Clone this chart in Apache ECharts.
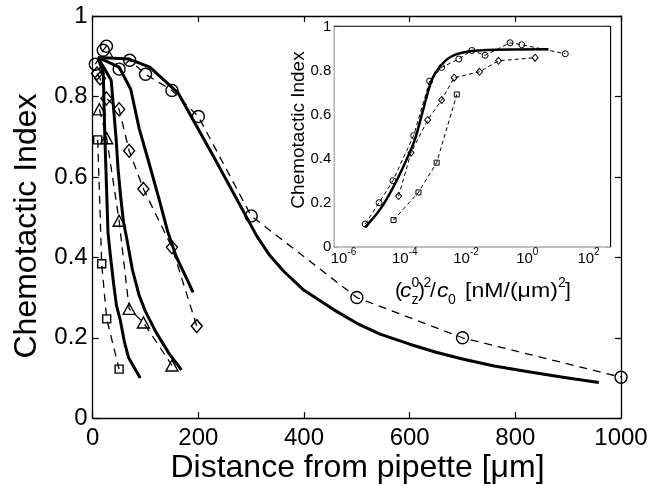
<!DOCTYPE html>
<html><head><meta charset="utf-8">
<script src="https://cdn.jsdelivr.net/npm/echarts@6/dist/echarts.min.js"></script>
<style>html,body{margin:0;padding:0;background:#fff}#c{width:664px;height:485px}</style>
</head><body><div id="c"></div>
<script>
const FONT = '"Liberation Sans", Arial, Helvetica, sans-serif';

// ---------- main panel: distance from pipette [µm] vs chemotactic index ----------
const mainXTicks = [0, 200, 400, 600, 800, 1000];
const mainYTicks = [0, 0.2, 0.4, 0.6, 0.8, 1];

// measured data (dashed, markers)
const circDist = [5, 20, 26, 50, 70, 100, 150, 200, 300, 500, 700, 1000];
const circCI   = [0.88, 0.915, 0.925, 0.868, 0.89, 0.855, 0.815, 0.75, 0.503, 0.3, 0.2, 0.102];
const diamDist = [8, 14, 26, 50, 69, 96, 150, 197];
const diamCI   = [0.857, 0.845, 0.795, 0.768, 0.665, 0.57, 0.425, 0.229];
const triDist  = [12.6, 26.5, 50, 69, 96, 150];
const triCI    = [0.768, 0.696, 0.491, 0.272, 0.238, 0.131];
const sqDist   = [9.5, 17, 26.5, 50];
const sqCI     = [0.692, 0.384, 0.247, 0.122];

// model curves (solid)
const modelADist = [10, 40, 69, 108, 162, 229, 311, 335, 361, 400, 456, 500, 544, 600, 650, 700, 760, 822, 890, 958];
const modelACI   = [0.897, 0.895, 0.893, 0.873, 0.808, 0.65, 0.452, 0.405, 0.366, 0.318, 0.27, 0.236, 0.209, 0.184, 0.164, 0.147, 0.13, 0.116, 0.102, 0.089];
const modelBDist = [10, 50, 72, 88, 105, 112, 126, 142, 158, 175, 190];
const modelBCI   = [0.897, 0.873, 0.818, 0.72, 0.642, 0.609, 0.543, 0.464, 0.402, 0.355, 0.313];
const modelCDist = [10, 35, 44, 48, 53, 58, 65, 75, 88, 100, 121, 145, 168];
const modelCCI   = [0.897, 0.84, 0.7, 0.62, 0.55, 0.49, 0.443, 0.37, 0.305, 0.265, 0.211, 0.16, 0.12];
const modelDDist = [10, 20, 23, 26, 29, 33, 40, 45, 52, 60, 68, 90];
const modelDCI   = [0.897, 0.858, 0.7, 0.58, 0.46, 0.41, 0.33, 0.28, 0.245, 0.19, 0.15, 0.1];

// ---------- inset: (c_z^0)^2/c_0 [nM/(µm)^2] (log scale) vs chemotactic index ----------
const insetXTickExp = [-6, -4, -2, 0, 2];
const insetYTicks = [0, 0.2, 0.4, 0.6, 0.8, 1];
const inCircX = [5.1e-6, 1.45e-5, 4.1e-5, 1.95e-4, 6.5e-4, 1.6e-3, 5.8e-3, 1.55e-2, 4.2e-2, 0.275, 0.66, 17.4];
const inCircY = [0.103, 0.2, 0.3, 0.505, 0.753, 0.815, 0.853, 0.892, 0.87, 0.927, 0.918, 0.877];
const inDiamX = [6.3e-5, 1.6e-4, 5.6e-4, 1.6e-3, 4.1e-3, 2.75e-2, 0.115, 1.8];
const inDiamY = [0.23, 0.427, 0.576, 0.667, 0.768, 0.795, 0.845, 0.859];
const inSqX   = [4.3e-5, 2.8e-4, 1.1e-3, 5.0e-3];
const inSqY   = [0.121, 0.247, 0.382, 0.692];
const inModelX = [5.1e-6, 1.6e-5, 4.3e-5, 1.2e-4, 2.2e-4, 4.1e-4, 7.6e-4, 1.35e-3, 3.0e-3, 1.07e-2, 0.102, 4.9];
const inModelY = [0.088, 0.171, 0.273, 0.402, 0.492, 0.629, 0.758, 0.815, 0.861, 0.886, 0.895, 0.897];

const pairs = (xs, ys) => xs.map((x, i) => [x, ys[i]]);
const logPairs = (xs, ys) => xs.map((x, i) => [Math.log10(x), ys[i]]);

const chart = echarts.init(document.getElementById('c'), null, {renderer: 'canvas'});

const axLine = {show: true, onZero: false, lineStyle: {color: '#000', width: 1.3}};
const tickIn = (len) => ({show: true, inside: true, length: len, lineStyle: {color: '#000', width: 1.2}});

const markerStyle = (w) => ({color: 'transparent', borderColor: '#000', borderWidth: w});

function dashed(name, data, symbol, size, xi, yi, lw, dash, bw) {
  return {
    name, type: 'line', data, xAxisIndex: xi, yAxisIndex: yi,
    symbol, symbolSize: size, showSymbol: true, showAllSymbol: true,
    lineStyle: {color: '#000', width: lw, type: dash},
    itemStyle: markerStyle(bw), silent: true, animation: false, z: 3
  };
}
function solid(name, data, xi, yi, lw) {
  return {
    name, type: 'line', data, xAxisIndex: xi, yAxisIndex: yi,
    symbol: 'none', lineStyle: {color: '#000', width: lw, cap: 'butt', join: 'round'},
    silent: true, animation: false, z: 4
  };
}

function txt(x, y, text, size, opts) {
  const el = {type: 'text', x, y,
    style: {text, font: (opts && opts.italic ? 'italic ' : '') + size + 'px ' + FONT, fill: '#000', align: 'left', verticalAlign: 'middle'}};
  if (opts && opts.scaleX) el.scaleX = opts.scaleX;
  return el;
}

const option = {
  backgroundColor: '#fff',
  animation: false,
  textStyle: {fontFamily: FONT, color: '#000'},
  grid: [
    {left: 92.7, top: 16, width: 528.3, height: 402.2, show: false},
    {left: 334.3, top: 26.7, width: 275.7, height: 220, show: true, backgroundColor: '#fff', borderWidth: 0, z: 5}
  ],
  xAxis: [
    {gridIndex: 0, type: 'value', position: 'bottom', min: mainXTicks[0], max: mainXTicks[mainXTicks.length - 1], interval: 200,
     axisLine: axLine, axisTick: tickIn(6), splitLine: {show: false},
     axisLabel: {show: true, margin: 8, fontSize: 24, fontFamily: FONT, color: '#000', formatter: v => String(v)}},
    {gridIndex: 0, type: 'value', position: 'top', min: 0, max: 1000, interval: 200,
     axisLine: axLine, axisTick: tickIn(6), splitLine: {show: false}, axisLabel: {show: false}},
    {gridIndex: 1, type: 'value', position: 'bottom', min: -6.3, max: 2.7,
     axisLine: axLine, splitLine: {show: false},
     axisTick: Object.assign(tickIn(4), {customValues: insetXTickExp}),
     axisLabel: {show: true, margin: 1, customValues: insetXTickExp, fontFamily: FONT, color: '#000',
       formatter: v => '{a|10}{b|' + Math.round(v) + '}',
       rich: {a: {fontSize: 15, lineHeight: 19, verticalAlign: 'bottom', fontFamily: FONT, color: '#000'},
              b: {fontSize: 10, lineHeight: 10, verticalAlign: 'top', fontFamily: FONT, color: '#000'}}}},
    {gridIndex: 1, type: 'value', position: 'top', min: -6.3, max: 2.7,
     axisLine: axLine, splitLine: {show: false},
     axisTick: Object.assign(tickIn(4), {customValues: insetXTickExp}), axisLabel: {show: false}}
  ],
  yAxis: [
    {gridIndex: 0, type: 'value', position: 'left', min: 0, max: 1, interval: 0.2,
     axisLine: axLine, axisTick: tickIn(6), splitLine: {show: false},
     axisLabel: {show: true, margin: 5, fontSize: 24, fontFamily: FONT, color: '#000'}},
    {gridIndex: 0, type: 'value', position: 'right', min: 0, max: 1, interval: 0.2,
     axisLine: axLine, axisTick: tickIn(6), splitLine: {show: false}, axisLabel: {show: false}},
    {gridIndex: 1, type: 'value', position: 'left', min: 0, max: 1, interval: 0.2,
     axisLine: axLine, axisTick: tickIn(4), splitLine: {show: false},
     axisLabel: {show: true, margin: 3, fontSize: 15, fontFamily: FONT, color: '#000'}},
    {gridIndex: 1, type: 'value', position: 'right', min: 0, max: 1, interval: 0.2,
     axisLine: axLine, axisTick: tickIn(4), splitLine: {show: false}, axisLabel: {show: false}}
  ],
  series: [
    dashed('circles', pairs(circDist, circCI), 'circle', 12, 0, 0, 1.3, [8, 6], 1.4),
    dashed('diamonds', pairs(diamDist, diamCI), 'diamond', [11, 13], 0, 0, 1.3, [8, 6], 1.4),
    dashed('triangles', pairs(triDist, triCI), 'triangle', [12, 11], 0, 0, 1.3, [8, 6], 1.4),
    dashed('squares', pairs(sqDist, sqCI), 'rect', 8, 0, 0, 1.3, [8, 6], 1.4),
    solid('model A', pairs(modelADist, modelACI), 0, 0, 3),
    solid('model B', pairs(modelBDist, modelBCI), 0, 0, 3),
    solid('model C', pairs(modelCDist, modelCCI), 0, 0, 3),
    solid('model D', pairs(modelDDist, modelDCI), 0, 0, 3),
    Object.assign(dashed('in circles', logPairs(inCircX, inCircY), 'circle', 6, 2, 2, 1, [4, 3], 1), {z: 6}),
    Object.assign(dashed('in diamonds', logPairs(inDiamX, inDiamY), 'diamond', [6, 7], 2, 2, 1, [4, 3], 1), {z: 6}),
    Object.assign(dashed('in squares', logPairs(inSqX, inSqY), 'rect', 5, 2, 2, 1, [4, 3], 1), {z: 6}),
    Object.assign(solid('in model', logPairs(inModelX, inModelY), 2, 2, 2.5), {z: 7, smooth: 0.3})
  ],
  graphic: [
    {type: 'text', x: 27, y: 226, rotation: Math.PI / 2, z: 10,
     style: {text: 'Chemotactic Index', font: '32px ' + FONT, fill: '#000', align: 'center', verticalAlign: 'middle'}},
    {type: 'text', x: 357.5, y: 468, z: 10,
     style: {text: 'Distance from pipette [μm]', font: '32px ' + FONT, fill: '#000', align: 'center', verticalAlign: 'middle'}},
    {type: 'text', x: 299, y: 130, rotation: Math.PI / 2, z: 10,
     style: {text: 'Chemotactic Index', font: '19px ' + FONT, fill: '#000', align: 'center', verticalAlign: 'middle'}},
    {type: 'group', z: 10, children: [
      txt(395, 291, '(', 21),
      txt(400, 291, 'c', 21, {italic: true, scaleX: 1.1}),
      txt(411.5, 283, '0', 14),
      txt(411.5, 300, 'z', 14),
      txt(418, 291, ')', 21),
      txt(423.5, 283, '2', 14),
      txt(430, 291, '/', 21),
      txt(437, 291, 'c', 21, {italic: true, scaleX: 1.1}),
      txt(448, 300, '0', 14),
      txt(465, 291, '[nM/(μm)', 21, {scaleX: 1.1}),
      txt(558, 283, '2', 14),
      txt(565, 291, ']', 21)
    ]}
  ]
};
chart.setOption(option);
</script></body></html>
